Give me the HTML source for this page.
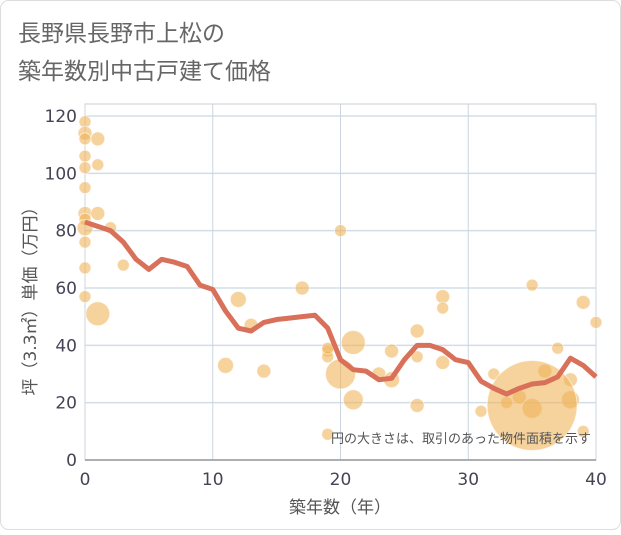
<!DOCTYPE html>
<html><head><meta charset="utf-8"><style>
body{margin:0;background:#fff;}
.wrap{width:621px;height:530px;position:relative;font-family:"Liberation Sans","Noto Sans CJK JP",sans-serif;}
svg text{font-family:"DejaVu Sans","Noto Sans CJK JP",sans-serif;}
</style></head><body>
<div class="wrap">
<svg id="chart" width="621" height="530">
<rect x="0.5" y="0.5" width="620" height="529" rx="8" fill="#fff" stroke="#ddd"/>
<text x="18" y="41" font-size="23" fill="#666">長野県長野市上松の</text>
<text x="18" y="79" font-size="23" fill="#666">築年数別中古戸建て価格</text>
<g id="grid"></g>
<g id="bubbles"></g>
<g id="line"></g>
<g id="axes"></g>
<text x="591" y="443" font-size="13" fill="#555" text-anchor="end">円の大きさは、取引のあった物件面積を示す</text>
<text x="340" y="513" font-size="17" fill="#555" text-anchor="middle">築年数（年）</text>
<text transform="translate(36,297) rotate(-90)" font-size="17" fill="#555" text-anchor="middle">坪（3.3㎡）単価（万円）</text>
</svg></div>
<script>
const xTicks=[0,10,20,30,40];
const yTicks=[0,20,40,60,80,100,120];
const lineYears=[0,1,2,3,4,5,6,7,8,9,10,11,12,13,14,15,16,17,18,19,20,21,22,23,24,25,26,27,28,29,30,31,32,33,34,35,36,37,38,39,40];
const lineValues=[83,81.5,80,76,70,66.5,70,69,67.5,61,59.5,52,46,45,48,49,49.5,50,50.5,46,35,31.5,31,28,28.5,35,40,40,38.5,35,34,27.5,25,23,25,26.5,27,29,35.5,33,29];
const bubbleX=[0,0,0,0,0,0,0,0,0,0,0,0,1,1,1,1,2,3,12,13,11,14,17,20,19,19,19,20,21,21,19,23,24,24,26,26,26,28,28,28,32,31,33,34,35,35,36,37,38,38,39,39,40];
const bubbleY=[118,114,112,106,102,95,86,84,81,76,67,57,112,103,86,51,81,68,56,47,33,31,60,80,38,36,9,30,41,21,39,30,38,28,45,36,19,57,53,34,30,17,20,22,61,18,31,39,28,21,55,10,48];
const bubbleR=[6,7,6,6,6,6,7,6,8,6,6,6,7,6,7,12,6,6,8,7,8,7,7,6,6,6,6,15,12,10,6,7,7,8,7,6,7,7,6,7,6,6,6,7,6,10,7,6,7,9,7,6,6];
const X0=85,X1=596,Y0=460,Y1=116;
const sx=v=>X0+(X1-X0)*v/40, sy=v=>Y0-(Y0-Y1)*v/120;
const NS="http://www.w3.org/2000/svg";
function mk(t,a,p){const e=document.createElementNS(NS,t);for(const k in a)e.setAttribute(k,a[k]);p.appendChild(e);return e;}
const grid=document.getElementById('grid');
const frame=mk('rect',{x:X0,y:104,width:X1-X0,height:Y0-104,fill:'none',stroke:'#ccc'},grid);


yTicks.forEach(v=>{const l=mk('line',{x1:X0,x2:X1,y1:sy(v),y2:sy(v),stroke:'#d3dde8','stroke-width':1.5},grid);


const t=mk('text',{x:X0-8,y:sy(v)+6,'font-size':17,fill:'#445','text-anchor':'end'},grid);t.textContent=v;

});
xTicks.forEach(v=>{const l=mk('line',{x1:sx(v),x2:sx(v),y1:104,y2:Y0,stroke:'#ccd5df'},grid);


const t=mk('text',{x:sx(v),y:Y0+25,'font-size':17,fill:'#445','text-anchor':'middle'},grid);t.textContent=v;

});
const ax=mk('line',{x1:X0,x2:X1,y1:Y0,y2:Y0,stroke:'#999','stroke-width':1.5},document.getElementById('axes'));


const bg=document.getElementById('bubbles');
bubbleX.forEach((x,i)=>{const c=mk('circle',{cx:sx(x),cy:sy(bubbleY[i]),r:bubbleR[i],fill:'rgba(240,180,90,0.6)',stroke:'rgba(255,255,255,0.6)'},bg);

});
const big=mk('circle',{cx:sx(35),cy:sy(19),r:45,fill:'rgba(240,180,90,0.6)',stroke:'rgba(255,255,255,0.6)'},bg);


const pts=lineYears.map((x,i)=>sx(x)+','+sy(lineValues[i])).join(' ');
const pl=mk('polyline',{points:pts,fill:'none',stroke:'#d9705a','stroke-width':5,'stroke-linejoin':'round'},document.getElementById('line'));


</script>
</body></html>
